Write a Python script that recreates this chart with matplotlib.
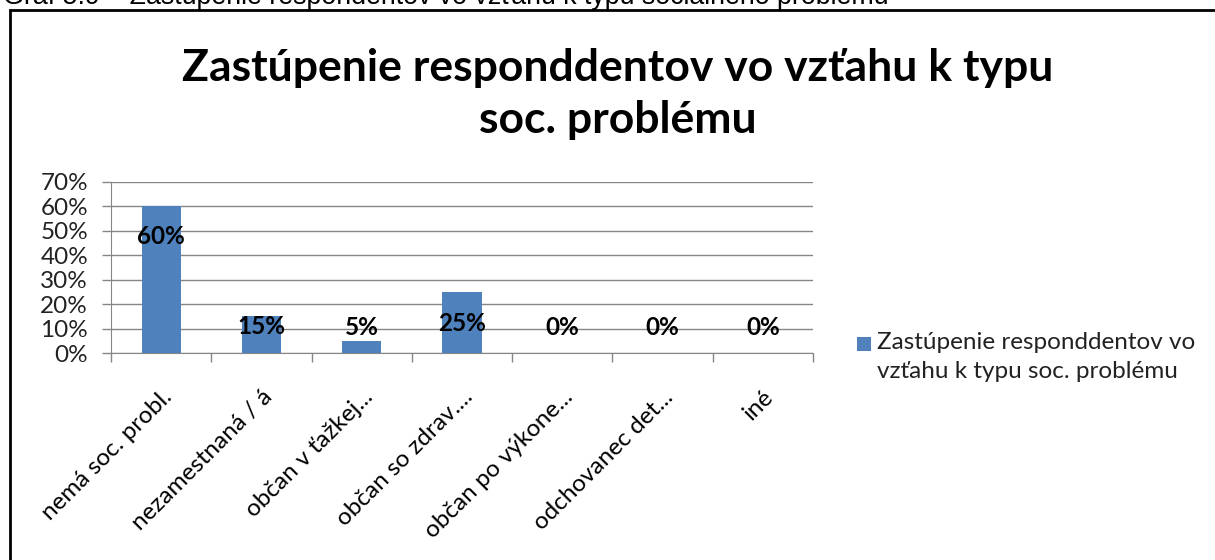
import matplotlib
matplotlib.use("Agg")
import matplotlib.pyplot as plt
from matplotlib.patches import Rectangle
from matplotlib.ticker import FixedLocator, PercentFormatter

categories = [
    "nemá soc. probl.",
    "nezamestnaná / á",
    "občan v ťažkej...",
    "občan so zdrav....",
    "občan po výkone...",
    "odchovanec det...",
    "iné",
]
shares = [60, 15, 5, 25, 0, 0, 0]
# labels were dragged by hand in the original, so they sit at fixed heights
label_y = [47.5, 10.8, 10.5, 12.2, 10.5, 10.5, 10.5]

title = "Zastúpenie responddentov vo vzťahu k typu\nsoc. problému"
series_name = "Zastúpenie responddentov vo\nvzťahu k typu soc. problému"
caption = "Graf 5.9 – Zastúpenie respondentov vo vzťahu k typu sociálneho problému"

BAR = "#4F81BD"
GRID = "#868686"
FONT = ["Lato", "DejaVu Sans"]
FS = 17.5

W, H = 1215, 560
fig = plt.figure(figsize=(W / 100, H / 100), dpi=100)


def px(x, y):
    return x / W, 1 - y / H


# caption of the document, cut off by the top of the screenshot
fig.text(*px(3, 4), caption, family=["Liberation Sans", "DejaVu Sans"],
         fontsize=19.3, va="baseline", ha="left", color="black")

# chart frame (right and bottom run past the image)
fig.patches.append(Rectangle(px(10, 580), (W + 30) / W, 570 / H,
                             transform=fig.transFigure, fill=False,
                             edgecolor="black", linewidth=2, zorder=5))

fig.text(*px(618, 94), title, family=FONT, fontweight="bold", fontsize=32,
         ha="center", va="center", linespacing=1.38)

ax = fig.add_axes([111 / W, 207 / H, (813 - 111) / W, 171 / H])
x = list(range(len(categories)))
bars = ax.bar(x, shares, width=0.39, color=BAR, zorder=3, label=series_name)

for xi, v, ly in zip(x, shares, label_y):
    ax.text(xi, ly, f"{v}%", ha="center", va="center", family=FONT,
            fontweight="bold", fontsize=FS, zorder=4)

ax.set_xlim(-0.5, len(categories) - 0.5)
ax.set_ylim(0, 70)
ax.set_yticks(range(0, 71, 10))
ax.yaxis.set_major_formatter(PercentFormatter(decimals=0))
ax.yaxis.grid(True, color=GRID, linewidth=1, zorder=0)

ax.set_xticks(x)
ax.set_xticklabels(categories, rotation=45, ha="right", rotation_mode="anchor",
                   family=FONT, fontsize=FS)
ax.xaxis.set_minor_locator(FixedLocator([i - 0.5 for i in range(len(categories) + 1)]))
ax.tick_params(axis="x", which="major", length=0, pad=24)
ax.tick_params(axis="x", which="minor", length=6.5, color=GRID, width=1)
ax.tick_params(axis="y", length=6.5, color=GRID, width=1, pad=10, labelsize=FS)
for lab in ax.get_yticklabels():
    lab.set_family(FONT)
    lab.set_color("#222222")

for side in ("top", "right"):
    ax.spines[side].set_visible(False)
for side in ("left", "bottom"):
    ax.spines[side].set_color(GRID)

# legend: swatch sits beside the first line of the wrapped series name
fig.patches.append(Rectangle(px(857, 351), 14 / W, 14 / H, transform=fig.transFigure,
                             facecolor=bars.patches[0].get_facecolor(), edgecolor="none"))
fig.text(*px(877, 332), series_name, family=FONT, fontsize=FS,
         ha="left", va="top", linespacing=1.45, color="#222222")

fig.savefig("out.png", dpi=100)
